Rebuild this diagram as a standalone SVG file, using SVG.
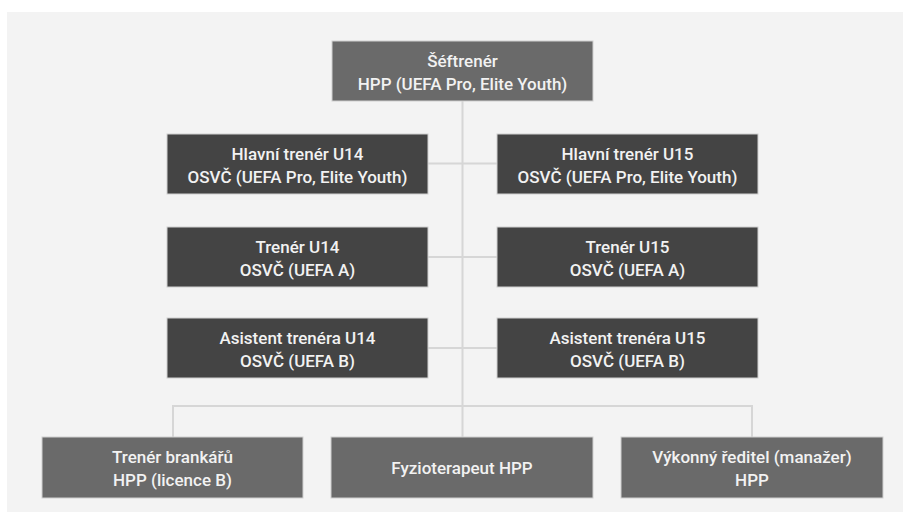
<svg xmlns="http://www.w3.org/2000/svg" width="909" height="526" viewBox="0 0 909 526">
<style>
.bg{fill:#f3f3f3}
.mid{fill:#6a6a6a;stroke:#d0d0d0;stroke-width:1}
.dark{fill:#444444;stroke:#d0d0d0;stroke-width:1}
.t{font-family:Roboto,"Liberation Sans",sans-serif;font-size:17px;font-weight:500;fill:#f2f2f2;text-anchor:middle}
.ln{stroke:#d6d6d6;stroke-width:2;fill:none}
</style>
<rect x="0" y="0" width="909" height="526" fill="#ffffff"/>
<rect class="bg" x="7" y="12" width="896" height="500"/>
<g id="connectors">
<line class="ln" x1="462.5" y1="101" x2="462.5" y2="437"/>
<line class="ln" x1="428" y1="163.5" x2="497" y2="163.5"/>
<line class="ln" x1="428" y1="257" x2="497" y2="257"/>
<line class="ln" x1="428" y1="348" x2="497" y2="348"/>
<polyline class="ln" points="173,437 173,406 752,406 752,437"/>
</g>
<g id="sef">
<rect class="mid" x="332" y="41" width="261" height="60"/>
<text class="t" x="462.5" y="67">Šéftrenér</text>
<text class="t" x="462.5" y="90">HPP (UEFA Pro, Elite Youth)</text>
</g>
<g id="hlavni-u14">
<rect class="dark" x="167" y="134" width="261" height="60"/>
<text class="t" x="297.5" y="160">Hlavní trenér U14</text>
<text class="t" x="297.5" y="183">OSVČ (UEFA Pro, Elite Youth)</text>
</g>
<g id="hlavni-u15">
<rect class="dark" x="497" y="134" width="261" height="60"/>
<text class="t" x="627.5" y="160">Hlavní trenér U15</text>
<text class="t" x="627.5" y="183">OSVČ (UEFA Pro, Elite Youth)</text>
</g>
<g id="trener-u14">
<rect class="dark" x="167" y="227" width="261" height="60"/>
<text class="t" x="297.5" y="253">Trenér U14</text>
<text class="t" x="297.5" y="276">OSVČ (UEFA A)</text>
</g>
<g id="trener-u15">
<rect class="dark" x="497" y="227" width="261" height="60"/>
<text class="t" x="627.5" y="253">Trenér U15</text>
<text class="t" x="627.5" y="276">OSVČ (UEFA A)</text>
</g>
<g id="asistent-u14">
<rect class="dark" x="167" y="318" width="261" height="60"/>
<text class="t" x="297.5" y="344">Asistent trenéra U14</text>
<text class="t" x="297.5" y="367">OSVČ (UEFA B)</text>
</g>
<g id="asistent-u15">
<rect class="dark" x="497" y="318" width="261" height="60"/>
<text class="t" x="627.5" y="344">Asistent trenéra U15</text>
<text class="t" x="627.5" y="367">OSVČ (UEFA B)</text>
</g>
<g id="brankari">
<rect class="mid" x="42" y="437" width="261" height="61"/>
<text class="t" x="172.5" y="463">Trenér brankářů</text>
<text class="t" x="172.5" y="486">HPP (licence B)</text>
</g>
<g id="fyzio">
<rect class="mid" x="331" y="437" width="262" height="61"/>
<text class="t" x="462" y="474">Fyzioterapeut HPP</text>
</g>
<g id="reditel">
<rect class="mid" x="621" y="437" width="262" height="61"/>
<text class="t" x="752" y="463">Výkonný ředitel (manažer)</text>
<text class="t" x="752" y="486">HPP</text>
</g>
</svg>
